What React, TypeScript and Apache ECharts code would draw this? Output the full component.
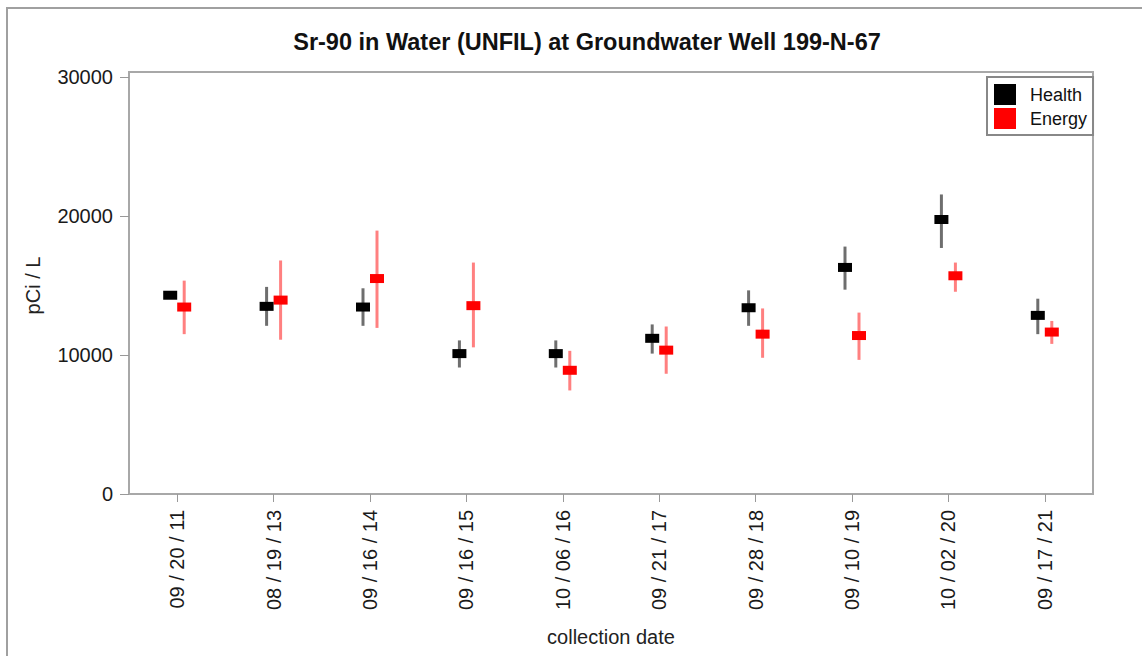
import React, { useEffect, useRef } from "react";
import * as echarts from "echarts";

const dates = ["09 / 20 / 11", "08 / 19 / 13", "09 / 16 / 14", "09 / 16 / 15", "10 / 06 / 16", "09 / 21 / 17", "09 / 28 / 18", "09 / 10 / 19", "10 / 02 / 20", "09 / 17 / 21"];
const healthValue = [14300, 13500, 13450, 10100, 10100, 11200, 13400, 16300, 19750, 12850];
const healthLow = [14150, 12100, 12100, 9100, 9100, 10100, 12100, 14700, 17700, 11500];
const healthHigh = [14450, 14900, 14800, 11050, 11050, 12200, 14650, 17800, 21550, 14050];
const energyValue = [13450, 13950, 15500, 13550, 8900, 10350, 11500, 11400, 15700, 11650];
const energyLow = [11500, 11100, 11950, 10550, 7450, 8650, 9800, 9650, 14550, 10800];
const energyHigh = [15350, 16800, 18950, 16650, 10300, 12050, 13350, 13050, 16650, 12450];
const yTicks = [0, 10000, 20000, 30000];

const FONT = "'Liberation Sans', Arial, sans-serif";

function makeRender(offset: number, markerColor: string, barColor: string) {
  return (params: any, api: any) => {
    const x = api.value(0);
    const c = api.coord([x, api.value(1)]);
    const lo = api.coord([x, api.value(2)]);
    const hi = api.coord([x, api.value(3)]);
    const cx = c[0] + offset;
    return {
      type: "group",
      children: [
        { type: "line", shape: { x1: cx, y1: lo[1], x2: cx, y2: hi[1] }, style: { stroke: barColor, lineWidth: 3 } },
        { type: "rect", shape: { x: cx - 7, y: c[1] - 4.5, width: 14, height: 9 }, style: { fill: markerColor } },
      ],
    };
  };
}

export default function App() {
  const ref = useRef<HTMLDivElement>(null);
  useEffect(() => {
    if (!ref.current) return;
    const chart = echarts.init(ref.current, null, { renderer: "svg" });
    const hData = dates.map((_, i) => [i, healthValue[i], healthLow[i], healthHigh[i]]);
    const eData = dates.map((_, i) => [i, energyValue[i], energyLow[i], energyHigh[i]]);
    chart.setOption({
      animation: false,
      backgroundColor: "#fff",
      title: {
        text: "Sr-90 in Water (UNFIL) at Groundwater Well 199-N-67",
        left: 582,
        textAlign: "center",
        top: 25,
        textStyle: { fontFamily: FONT, fontSize: 23.5, fontWeight: "bold", color: "#111" },
      },
      legend: {
        left: 987,
        top: 77,
        orient: "vertical",
        itemWidth: 22,
        itemHeight: 21,
        itemGap: 3,
        padding: [7, 6, 6, 7],
        borderColor: "#888",
        borderWidth: 2,
        textStyle: { fontFamily: FONT, fontSize: 18, color: "#111", padding: [0, 0, 0, 9] },
        data: [
          { name: "Health", icon: "rect", itemStyle: { color: "#000" } },
          { name: "Energy", icon: "rect", itemStyle: { color: "#ff0000" } },
        ],
      },
      grid: { left: 129, right: 49, top: 77, bottom: 162 },
      xAxis: {
        type: "category",
        data: dates,
        boundaryGap: true,
        name: "collection date",
        nameLocation: "middle",
        nameGap: 133,
        nameTextStyle: { fontFamily: FONT, fontSize: 20, color: "#222" },
        axisLine: { show: false },
        axisTick: { show: true, alignWithLabel: true, length: 8, lineStyle: { color: "#999" } },
        axisLabel: { rotate: 90, margin: 16, fontFamily: FONT, fontSize: 20, color: "#1a1a1a" },
        splitLine: { show: false },
      },
      yAxis: {
        type: "value",
        min: yTicks[0],
        max: yTicks[yTicks.length - 1],
        interval: 10000,
        name: "pCi / L",
        nameLocation: "middle",
        nameRotate: 90,
        nameGap: 86,
        nameTextStyle: { fontFamily: FONT, fontSize: 20, color: "#222" },
        axisLine: { show: false },
        axisTick: { show: true, length: 9, lineStyle: { color: "#999" } },
        axisLabel: { margin: 16, fontFamily: FONT, fontSize: 20, color: "#1a1a1a", formatter: (v: number) => String(v) },
        splitLine: { show: false },
      },
      graphic: [
        { type: "rect", shape: { x: 7, y: 8, width: 1140, height: 660 }, style: { fill: "none", stroke: "#a0a0a0", lineWidth: 2 }, silent: true },
        { type: "rect", shape: { x: 129, y: 72, width: 964, height: 422 }, style: { fill: "none", stroke: "#a8a8a8", lineWidth: 2 }, silent: true, z: 0 },
      ],
      series: [
        { name: "Health", type: "custom", data: hData, itemStyle: { color: "#000" }, renderItem: makeRender(-7, "#000", "#6e6e6e"), encode: { x: 0, y: [1, 2, 3] }, z: 3 },
        { name: "Energy", type: "custom", data: eData, itemStyle: { color: "#ff0000" }, renderItem: makeRender(7, "#ff0000", "#ff8080"), encode: { x: 0, y: [1, 2, 3] }, z: 2 },
      ],
    });
    return () => chart.dispose();
  }, []);
  return <div ref={ref} style={{ position: "fixed", left: 0, top: 0, width: 1142, height: 656 }} />;
}
